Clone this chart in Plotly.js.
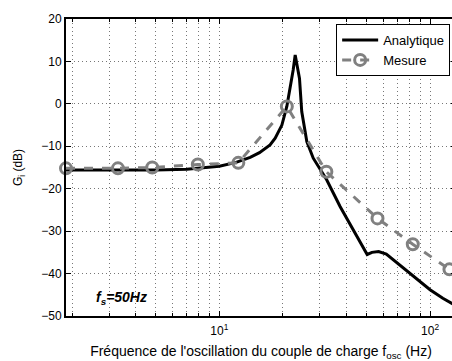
<!DOCTYPE html>
<html>
<head>
<meta charset="utf-8">
<script src="https://cdn.plot.ly/plotly-3.0.1.min.js"></script>
<style>html,body{margin:0;padding:0;overflow:hidden;background:#fff;}</style>
</head>
<body>
<div id="chart"></div>
<script>
// Analytic curve
const freqAnalytic = [1.87, 3, 5, 7, 8, 10, 12, 14, 15.5, 17.4, 18.4, 19.8, 20.9, 21.7, 22.4, 22.9, 23.4, 24, 24.6, 26, 27.9, 30.6, 32.3, 37.4, 43.3, 50.3, 53, 57, 62, 70, 80, 90, 100, 115, 132];
const gainAnalytic = [-15.6, -15.6, -15.6, -15.4, -15.2, -14.7, -13.8, -12.6, -11.5, -9.7, -8.1, -5.0, -0.6, 3.7, 8.0, 11.5, 9.0, 6.0, -1.8, -8.9, -12.8, -16.0, -17.9, -24.2, -29.7, -35.5, -35.0, -34.8, -35.4, -37.5, -40.0, -42.0, -43.8, -45.8, -47.5];
// Measured points
const freqMesure = [1.87, 3.3, 4.8, 7.9, 12.3, 20.9, 32.2, 56.3, 82.8, 123.6];
const gainMesure = [-15.2, -15.2, -15.0, -14.3, -13.9, -0.6, -16.0, -27.0, -33.1, -39.0];
// Axis ticks
const xTickVals = [10, 100];
const xTickText = ["10<sup>1</sup>", "10<sup>2</sup>"];
const yTickVals = [-50, -40, -30, -20, -10, 0, 10, 20];

const font = "Liberation Sans, Arial, sans-serif";
const gridDash = "1px,3px";
const gridColor = "#777";

const traces = [
  {x: freqAnalytic, y: gainAnalytic, type: "scatter", mode: "lines", name: "Analytique",
   line: {color: "#000", width: 3}},
  {x: freqMesure, y: gainMesure, type: "scatter", mode: "lines+markers", name: "Mesure",
   line: {color: "#808080", width: 3, dash: "dash"},
   marker: {symbol: "circle-open", size: 11, color: "#808080", line: {width: 3, color: "#808080"}},
   cliponaxis: false}
];

const layout = {
  width: 460, height: 361,
  margin: {l: 66, r: 4, t: 19, b: 45},
  paper_bgcolor: "#fff", plot_bgcolor: "#fff",
  font: {family: font, size: 12, color: "#000"},
  showlegend: true,
  legend: {x: 0.985, xanchor: "right", y: 0.983, yanchor: "top",
           bgcolor: "#fff", bordercolor: "#000", borderwidth: 1,
           itemwidth: 36,
           font: {family: font, size: 13, color: "#000"}},
  xaxis: {type: "log", range: [Math.log10(1.87), Math.log10(132.8)],
          tickmode: "array", tickvals: xTickVals, ticktext: xTickText,
          ticks: "inside", ticklen: 5, tickcolor: "#000", ticklabelstandoff: 3,
          showline: true, linecolor: "#000", linewidth: 2, mirror: "ticks",
          showgrid: true, gridcolor: gridColor, griddash: gridDash, gridwidth: 1,
          minor: {dtick: "D1", showgrid: true, gridcolor: gridColor, griddash: gridDash, gridwidth: 1,
                  ticks: "inside", ticklen: 3, tickcolor: "#000"},
          zeroline: false,
          tickfont: {family: font, size: 12},
          title: {text: "Fréquence de l'oscillation du couple de charge f<sub>osc</sub> (Hz)",
                  font: {family: font, size: 14}, standoff: 9}},
  yaxis: {range: [-50, 20], tickmode: "array", tickvals: yTickVals,
          ticks: "inside", ticklen: 5, tickcolor: "#000",
          showline: true, linecolor: "#000", linewidth: 2, mirror: "ticks",
          showgrid: true, gridcolor: gridColor, griddash: gridDash, gridwidth: 1,
          zeroline: false,
          tickfont: {family: font, size: 12},
          title: {text: "G<sub>i</sub> (dB)", font: {family: font, size: 12}, standoff: 16}},
  annotations: [
    {xref: "paper", yref: "paper", x: 0.072, y: 0.06, xanchor: "left", yanchor: "middle",
     text: "<b><i>f<sub>s</sub>=50Hz</i></b>", showarrow: false,
     font: {family: font, size: 14, color: "#000"}}
  ]
};

Plotly.newPlot("chart", traces, layout, {displayModeBar: false, staticPlot: true});
</script>
</body>
</html>
